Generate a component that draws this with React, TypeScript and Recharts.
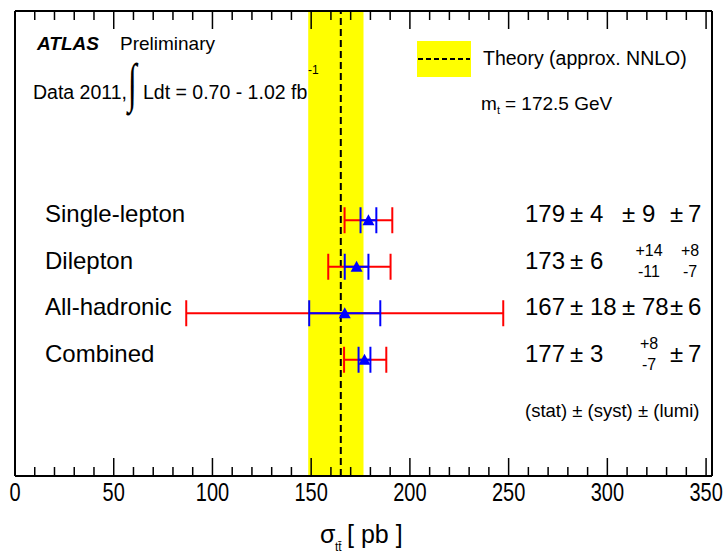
import React from "react";
import {
  ComposedChart,
  Scatter,
  ErrorBar,
  XAxis,
  YAxis,
  ReferenceArea,
  ReferenceLine,
} from "recharts";

const FONT = "'Liberation Sans', Arial, Helvetica, sans-serif";

// measurements, pb
const channels = ["Single-lepton", "Dilepton", "All-hadronic", "Combined"];
const rowPos = [5.5, 4.5, 3.5, 2.5];
const xsec = [179, 173, 167, 177];
const statErr = [4, 6, 18, 3];
const systUp = [9, 14, 78, 8];
const systDown = [9, 11, 78, 7];
const lumiUp = [7, 8, 6, 7];
const lumiDown = [7, 7, 6, 7];

// theory band (approx. NNLO, m_t = 172.5 GeV)
const theoryCentral = 165;
const theoryLow = 148.5;
const theoryHigh = 176.5;

const xTicks = [
  0, 10, 20, 30, 40, 50, 60, 70, 80, 90, 100, 110, 120, 130, 140, 150, 160, 170,
  180, 190, 200, 210, 220, 230, 240, 250, 260, 270, 280, 290, 300, 310, 320, 330,
  340, 350,
];
const xLabels = [0, 50, 100, 150, 200, 250, 300, 350];

// layout
const W = 727;
const H = 555;
const MARGIN_TOP = 10;
const TOP_AXIS_H = 1;
const PLOT_TOP = MARGIN_TOP + TOP_AXIS_H;

const quad = (...e: number[]) => Math.sqrt(e.reduce((s, v) => s + v * v, 0));

const data = channels.map((name, i) => ({
  name,
  idx: i,
  xs: xsec[i],
  row: rowPos[i],
  stat: statErr[i],
  total: [quad(statErr[i], systDown[i], lumiDown[i]), quad(statErr[i], systUp[i], lumiUp[i])],
}));

// ROOT-style ticks: inward on both bottom and top frame, labels only on majors
function FrameTick(props: any) {
  const { x, y, payload } = props;
  const v = payload.value;
  const major = xLabels.includes(v);
  const len = major ? 18 : 9;
  return (
    <g>
      <line x1={x} x2={x} y1={y} y2={y - len} stroke="#000" strokeWidth={1.5} />
      <line x1={x} x2={x} y1={PLOT_TOP} y2={PLOT_TOP + len} stroke="#000" strokeWidth={1.5} />
      {major && (
        <text
          transform={`translate(${x},${y + 25}) scale(0.8,1)`}
          textAnchor="middle"
          fontSize={25}
          fontFamily={FONT}
          fill="#000"
        >
          {v}
        </text>
      )}
    </g>
  );
}

function ErrTerm({ up, down, pmX, numX, midX, cy }: any) {
  if (up === down) {
    return (
      <>
        <text x={pmX} y={cy + 2} fontSize={24}>±</text>
        <text x={numX} y={cy + 2} fontSize={24}>{up}</text>
      </>
    );
  }
  return (
    <>
      <text x={midX} y={cy - 11} fontSize={16} textAnchor="middle">+{up}</text>
      <text x={midX} y={cy + 10} fontSize={16} textAnchor="middle">-{down}</text>
    </>
  );
}

function RowMarker(props: any) {
  const { cx, cy, payload } = props;
  const i = payload.idx;
  return (
    <g fontFamily={FONT} fill="#000">
      <polygon points={`${cx - 6},${cy + 5} ${cx + 6},${cy + 5} ${cx},${cy - 6}`} fill="#0000ff" />
      <text x={45} y={cy + 2} fontSize={24}>{payload.name}</text>
      <text x={525} y={cy + 2} fontSize={24}>{xsec[i]}</text>
      <text x={570} y={cy + 2} fontSize={24}>±</text>
      <text x={590} y={cy + 2} fontSize={24}>{statErr[i]}</text>
      <ErrTerm up={systUp[i]} down={systDown[i]} pmX={622} numX={642} midX={649} cy={cy} />
      <ErrTerm up={lumiUp[i]} down={lumiDown[i]} pmX={670} numX={688} midX={690} cy={cy} />
    </g>
  );
}

// header, legend and axis title, on top of everything
function Overlay() {
  return (
    <svg width={W} height={H} style={{ position: "absolute", left: 0, top: 0, pointerEvents: "none" }}>
      <g fontFamily={FONT} fill="#000">
        <text x={37} y={50} fontSize={19} fontWeight="bold" fontStyle="italic">ATLAS</text>
        <text x={120} y={50} fontSize={19}>Preliminary</text>
        <text x={33} y={99} fontSize={19.5}>Data 2011,</text>
        <text transform="translate(128,101) scale(0.8,1.35)" fontSize={40} fontFamily="'Liberation Serif'">∫</text>
        <text x={143} y={99} fontSize={19.5}>Ldt = 0.70 - 1.02 fb</text>
        <text x={308} y={74} fontSize={12}>-1</text>

        <rect x={417} y={41} width={54} height={36} fill="#ffff00" />
        <line x1={418} x2={470} y1={59} y2={59} stroke="#000" strokeWidth={2} strokeDasharray="5 3" />
        <text x={483} y={65} fontSize={19.5}>Theory (approx. NNLO)</text>
        <text x={481} y={110} fontSize={19}>m</text>
        <text x={497} y={114} fontSize={11}>t</text>
        <text x={505} y={110} fontSize={19}>= 172.5 GeV</text>

        <text x={525} y={417} fontSize={18.5}>(stat) ± (syst) ± (lumi)</text>

        <text x={320} y={543} fontSize={25}>σ</text>
        <text x={335} y={551} fontSize={12}>tt̄</text>
        <text x={347} y={543} fontSize={25}>[ pb ]</text>
      </g>
    </svg>
  );
}

const frameLine = { stroke: "#000", strokeWidth: 2 };

export default function App() {
  return (
    <div style={{ position: "absolute", left: 0, top: 0, width: W, height: H, background: "#fff" }}>
      <ComposedChart width={W} height={H} data={data} margin={{ top: MARGIN_TOP, right: 14, left: 14, bottom: 0 }}>
        <ReferenceArea x1={theoryLow} x2={theoryHigh} fill="#ffff00" fillOpacity={1} stroke="none" />
        <ReferenceLine x={theoryCentral} stroke="#000" strokeWidth={2} strokeDasharray="7 4" />
        <XAxis
          dataKey="xs"
          type="number"
          domain={[0, 353]}
          ticks={xTicks}
          interval={0}
          height={79}
          tickSize={0}
          tickMargin={0}
          tickLine={false}
          axisLine={frameLine}
          tick={FrameTick}
        />
        <XAxis
          xAxisId="top"
          orientation="top"
          type="number"
          domain={[0, 353]}
          height={TOP_AXIS_H}
          tick={false}
          tickLine={false}
          axisLine={frameLine}
        />
        <YAxis dataKey="row" type="number" domain={[0, 10]} width={1} tick={false} tickLine={false} axisLine={frameLine} />
        <YAxis yAxisId="r" orientation="right" type="number" domain={[0, 10]} width={1} tick={false} tickLine={false} axisLine={frameLine} />
        <Scatter data={data} isAnimationActive={false} shape={() => <g />}>
          <ErrorBar dataKey="total" direction="x" width={13} stroke="#ff0000" strokeWidth={2} />
          <ErrorBar dataKey="stat" direction="x" width={13} stroke="#0000ff" strokeWidth={2} />
        </Scatter>
        <Scatter data={data} isAnimationActive={false} shape={RowMarker} />
      </ComposedChart>
      <Overlay />
    </div>
  );
}
